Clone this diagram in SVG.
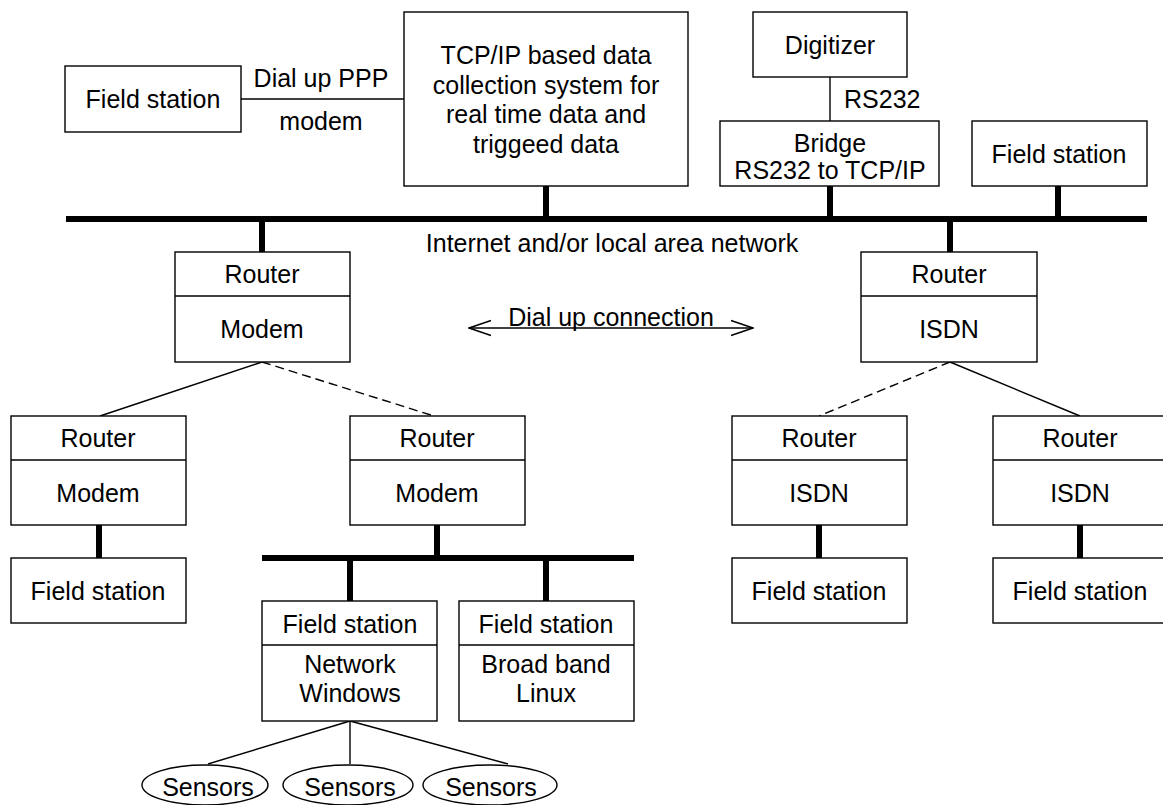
<svg xmlns="http://www.w3.org/2000/svg" width="1163" height="805" viewBox="0 0 1163 805">
<style>
.box{fill:#fff;stroke:#000;stroke-width:1.4}
.div{stroke:#000;stroke-width:1.4}
.t{font-family:"Liberation Sans",Arial,sans-serif;font-size:25px;fill:#000;text-anchor:middle}
.thin{stroke:#000;stroke-width:1.4;fill:none}
.dash{stroke:#000;stroke-width:1.4;fill:none;stroke-dasharray:9 5}
.thick{stroke:#000;stroke-width:6;fill:none}
</style>
<defs>
<marker id="open" viewBox="0 0 24 18" refX="23" refY="9" markerWidth="24" markerHeight="18" markerUnits="userSpaceOnUse" orient="auto-start-reverse">
<path d="M1,1.5 L23,9 L1,16.5" fill="none" stroke="#000" stroke-width="1.4"/>
</marker>
</defs>
<rect width="1163" height="805" fill="#fff"/>
<g id="connectors">
<line class="thick" x1="66" y1="219" x2="1147" y2="219"/>
<line class="thick" x1="546" y1="186" x2="546" y2="219"/>
<line class="thick" x1="830" y1="186" x2="830" y2="219"/>
<line class="thick" x1="1058" y1="186" x2="1058" y2="219"/>
<line class="thick" x1="262" y1="219" x2="262" y2="252"/>
<line class="thick" x1="950" y1="219" x2="950" y2="252"/>
<line class="thin" x1="241" y1="99" x2="404" y2="99"/>
<line class="thin" x1="830" y1="77" x2="830" y2="121"/>
<line class="thin" x1="262" y1="362" x2="100" y2="416"/>
<line class="dash" x1="262" y1="362" x2="434" y2="416"/>
<line class="dash" x1="950" y1="362" x2="819" y2="416"/>
<line class="thin" x1="950" y1="362" x2="1080" y2="416"/>
<line class="thick" x1="99" y1="525" x2="99" y2="558"/>
<line class="thick" x1="437" y1="525" x2="437" y2="558"/>
<line class="thick" x1="262" y1="558" x2="634" y2="558"/>
<line class="thick" x1="350" y1="558" x2="350" y2="601"/>
<line class="thick" x1="546" y1="558" x2="546" y2="601"/>
<line class="thick" x1="819" y1="525" x2="819" y2="558"/>
<line class="thick" x1="1080" y1="525" x2="1080" y2="558"/>
<line class="thin" x1="350" y1="721" x2="208" y2="764"/>
<line class="thin" x1="350" y1="721" x2="350" y2="764"/>
<line class="thin" x1="350" y1="721" x2="508" y2="764"/>
<line class="thin" x1="469" y1="328" x2="753" y2="328" marker-start="url(#open)" marker-end="url(#open)"/>
<text class="t" x="321" y="87">Dial up PPP</text>
<text class="t" x="321" y="130">modem</text>
<text class="t" x="844" y="108" style="text-anchor:start">RS232</text>
<text class="t" x="612" y="252">Internet and/or local area network</text>
<text class="t" x="611" y="326">Dial up connection</text>
</g>
<g id="fs-top-left"><rect class="box" x="65" y="66" width="176" height="66"/><text class="t" x="153" y="108">Field station</text></g>
<g id="tcp-system"><rect class="box" x="404" y="12" width="284" height="174"/>
<text class="t" x="546" y="64">TCP/IP based data</text>
<text class="t" x="546" y="93.5">collection system for</text>
<text class="t" x="546" y="123">real time data and</text>
<text class="t" x="546" y="152.5">triggeed data</text></g>
<g id="digitizer"><rect class="box" x="753" y="12" width="154" height="65"/><text class="t" x="830" y="54">Digitizer</text></g>
<g id="bridge"><rect class="box" x="720" y="121" width="219" height="65"/><text class="t" x="830" y="152">Bridge</text><text class="t" x="830" y="179">RS232 to TCP/IP</text></g>
<g id="fs-top-right"><rect class="box" x="972" y="121" width="175" height="65"/><text class="t" x="1059" y="163">Field station</text></g>
<g id="router-left"><rect class="box" x="175" y="252" width="175" height="110"/><line class="div" x1="175" y1="296" x2="350" y2="296"/><text class="t" x="262" y="283">Router</text><text class="t" x="262" y="338">Modem</text></g>
<g id="router-right"><rect class="box" x="861" y="252" width="176" height="110"/><line class="div" x1="861" y1="296" x2="1037" y2="296"/><text class="t" x="949" y="283">Router</text><text class="t" x="949" y="338">ISDN</text></g>
<g id="router-ll"><rect class="box" x="11" y="416" width="175" height="109"/><line class="div" x1="11" y1="460" x2="186" y2="460"/><text class="t" x="98" y="447">Router</text><text class="t" x="98" y="502">Modem</text></g>
<g id="router-lm"><rect class="box" x="350" y="416" width="175" height="109"/><line class="div" x1="350" y1="460" x2="525" y2="460"/><text class="t" x="437" y="447">Router</text><text class="t" x="437" y="502">Modem</text></g>
<g id="router-rl"><rect class="box" x="732" y="416" width="175" height="109"/><line class="div" x1="732" y1="460" x2="907" y2="460"/><text class="t" x="819" y="447">Router</text><text class="t" x="819" y="502">ISDN</text></g>
<g id="router-rr"><rect class="box" x="993" y="416" width="175" height="109"/><line class="div" x1="993" y1="460" x2="1168" y2="460"/><text class="t" x="1080" y="447">Router</text><text class="t" x="1080" y="502">ISDN</text></g>
<g id="fs-ll"><rect class="box" x="11" y="558" width="175" height="65"/><text class="t" x="98" y="600">Field station</text></g>
<g id="fs-rl"><rect class="box" x="732" y="558" width="175" height="65"/><text class="t" x="819" y="600">Field station</text></g>
<g id="fs-rr"><rect class="box" x="993" y="558" width="175" height="65"/><text class="t" x="1080" y="600">Field station</text></g>
<g id="fs-windows"><rect class="box" x="262" y="601" width="175" height="120"/><line class="div" x1="262" y1="645" x2="437" y2="645"/><text class="t" x="350" y="633">Field station</text><text class="t" x="350" y="673">Network</text><text class="t" x="350" y="702">Windows</text></g>
<g id="fs-linux"><rect class="box" x="459" y="601" width="175" height="120"/><line class="div" x1="459" y1="645" x2="634" y2="645"/><text class="t" x="546" y="633">Field station</text><text class="t" x="546" y="673">Broad band</text><text class="t" x="546" y="702">Linux</text></g>
<g id="sensors-1"><ellipse class="box" cx="205" cy="785" rx="63" ry="20"/><text class="t" x="208" y="796">Sensors</text></g>
<g id="sensors-2"><ellipse class="box" cx="348" cy="785" rx="65" ry="20"/><text class="t" x="350" y="796">Sensors</text></g>
<g id="sensors-3"><ellipse class="box" cx="490" cy="785" rx="67" ry="20"/><text class="t" x="491" y="796">Sensors</text></g>
</svg>
